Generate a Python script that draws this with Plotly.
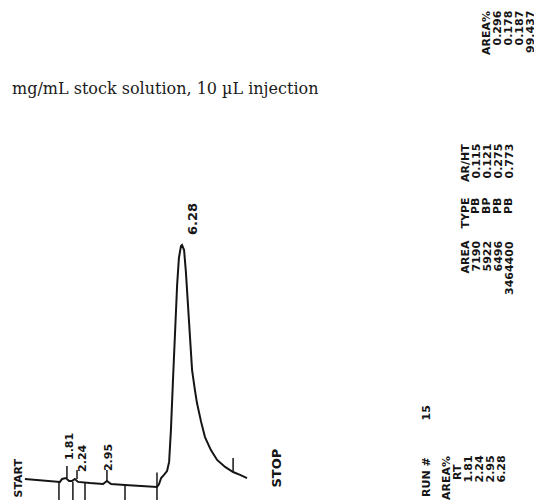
import plotly.graph_objects as go

W, H = 542, 500
PAD = 8  # page body margin of the browser; the figure starts 8 px in

# strip chart trace: time (min) and detector signal (arbitrary units)
time = [0.19, 0.78, 1.36, 1.55, 1.63, 1.78, 1.90, 2.02, 2.13, 2.25, 2.71, 3.22, 3.37, 3.53,
        4.07, 4.65, 5.31, 5.39, 5.47, 5.58, 5.70, 5.78, 5.85, 5.93, 6.01, 6.09, 6.16, 6.24,
        6.28, 6.36, 6.43, 6.51, 6.59, 6.67, 6.78, 6.86, 7.02, 7.17, 7.40, 7.64, 7.95, 8.26,
        8.53, 8.80]
signal = [2.9, 2.5, 2.1, 1.7, 2.9, 3.3, 2.1, 2.1, 2.9, 1.7, 1.2, 0.8, 2.1, 0.8,
          0.4, 0.0, -0.4, 0.8, 3.3, 4.6, 6.2, 10.0, 23.2, 44.0, 64.7, 83.4, 94.6, 99.6,
          100.0, 97.9, 88.8, 75.9, 60.6, 48.1, 39.8, 34.4, 26.6, 20.3, 14.9, 10.8, 7.9, 5.8,
          4.6, 3.3]

# integrator event marks below the baseline
event_time = [1.51, 2.05, 2.52, 4.07, 5.31]
event_top = [1.7, 1.7, 1.2, 0.4, 5.6]

# peak markers (small ticks at each detected peak)
mark_time = [1.82, 2.21, 3.37, 8.26]
mark_low = [3.3, 2.9, 2.1, 5.8]
mark_high = [8.3, 6.6, 6.6, 11.6]

# peak retention time labels
label_time = [1.94, 2.40, 3.41, 6.71]
label_sig = [16.2, 11.6, 12.0, 110.8]

# integrator report
run_no = "15"
rt = ["1.81", "2.24", "2.95", "6.28"]
area = ["7190", "5922", "6496", "3464400"]
peak_type = ["PB", "BP", "PB", "PB"]
ar_ht = ["0.115", "0.121", "0.275", "0.773"]
area_pct = ["0.296", "0.178", "0.187", "99.437"]

PRN = "DejaVu Sans, sans-serif"
INK = "#151515"

fig = go.Figure()
fig.add_trace(go.Scatter(x=time, y=signal, mode="lines",
                         line=dict(color=INK, width=2), hoverinfo="skip"))

ex, ey = [], []
for t, top in zip(event_time, event_top):
    ex += [t, t, None]
    ey += [top, -6, None]
for t, lo, hi in zip(mark_time, mark_low, mark_high):
    ex += [t, t, None]
    ey += [lo, hi, None]
fig.add_trace(go.Scatter(x=ex, y=ey, mode="lines",
                         line=dict(color=INK, width=1.5), hoverinfo="skip"))

for t, s, txt in zip(label_time, label_sig, rt):
    fig.add_annotation(x=t, y=s, text="<b>" + txt + "</b>", showarrow=False, textangle=-90,
                       xanchor="center", yanchor="middle",
                       font=dict(family=PRN, size=11 if txt != "6.28" else 13, color=INK))


def note(txt, px, py, size=11, anchor="top"):
    # px, py: position on the page in pixels
    fig.add_annotation(x=(px - PAD) / (W - PAD), y=1 - (py - PAD) / (H - PAD),
                       xref="paper", yref="paper",
                       text="<b>" + txt + "</b>", showarrow=False, textangle=-90,
                       xanchor="center", yanchor=anchor,
                       font=dict(family=PRN, size=size, color=INK))


note("START", 18, 457)
note("STOP", 276, 447, size=13)

# report, printed sideways: one image column per printed line
pitch = 11
note("RUN #", 426, 455)
note(run_no, 426, 404)
note("AREA%", 446, 454)
note("RT", 457, 462)
for i, v in enumerate(rt):
    note(v, 468 + pitch * i, 454)

for head, vals, top in [("AREA", area, 239), ("TYPE", peak_type, 196), ("AR/HT", ar_ht, 142)]:
    note(head, 465, top)
    for i, v in enumerate(vals):
        note(v, 476 + pitch * i, top)

note("AREA%", 486, 9)
for i, v in enumerate(area_pct):
    note(v, 497 + pitch * i, 9)

fig.add_annotation(x=(320 - PAD) / (W - PAD), y=1 - (88 - PAD) / (H - PAD),
                   xref="paper", yref="paper",
                   text="mg/mL stock solution, 10 \u00b5L injection", showarrow=False,
                   xanchor="right", yanchor="middle",
                   font=dict(family="DejaVu Serif, serif", size=16, color="#1a1a1a"))

# axis ranges chosen so that the page pixels line up with the scan
fig.update_layout(width=W - PAD, height=H - PAD, margin=dict(l=0, r=0, t=0, b=0),
                  paper_bgcolor="white", plot_bgcolor="white", showlegend=False,
                  xaxis=dict(visible=False, range=[-0.465, 20.233]),
                  yaxis=dict(visible=False, range=[-5.81, 198.3]))

fig.write_html("out.html")
